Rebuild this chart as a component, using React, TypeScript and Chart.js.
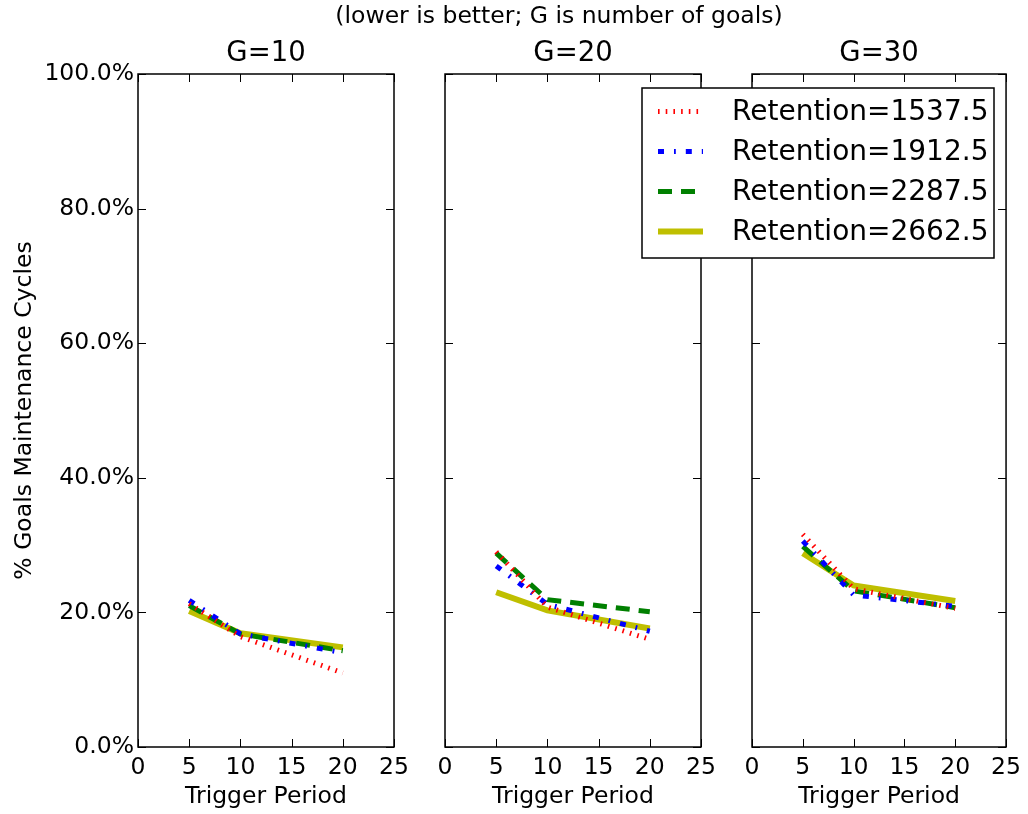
import React, { useEffect, useRef } from 'react';
import { Chart, registerables } from 'chart.js';

Chart.register(...registerables);

// ---------- data ----------
const triggerPeriods = [5, 10, 20];
const retentionLabels = ['Retention=1537.5', 'Retention=1912.5', 'Retention=2287.5', 'Retention=2662.5'];
const panelTitles = ['G=10', 'G=20', 'G=30'];
const suptitle = '(lower is better; G is number of goals)';
const xTickValues = [0, 5, 10, 15, 20, 25];
const yTickValues = [0, 20, 40, 60, 80, 100];
const xAxisTitle = 'Trigger Period';
const yAxisTitle = '% Goals Maintenance Cycles';

// G=10
const g10Ret1537 = [21.3, 16.4, 11.0];
const g10Ret1912 = [21.8, 16.8, 14.0];
const g10Ret2287 = [21.0, 16.8, 14.3];
const g10Ret2662 = [20.2, 16.9, 14.8];
// G=20
const g20Ret1537 = [29.0, 20.8, 16.0];
const g20Ret1912 = [26.9, 21.2, 17.2];
const g20Ret2287 = [28.8, 21.9, 20.1];
const g20Ret2662 = [23.0, 20.3, 17.6];
// G=30
const g30Ret1537 = [31.6, 23.5, 20.6];
const g30Ret1912 = [30.6, 22.6, 20.9];
const g30Ret2287 = [29.8, 23.2, 20.7];
const g30Ret2662 = [28.8, 24.0, 21.7];

const panelSeries = [
  [g10Ret1537, g10Ret1912, g10Ret2287, g10Ret2662],
  [g20Ret1537, g20Ret1912, g20Ret2287, g20Ret2662],
  [g30Ret1537, g30Ret1912, g30Ret2287, g30Ret2662],
];

// ---------- styles ----------
const FONT = '"DejaVu Sans", sans-serif';
const LABEL_SIZE = 23.5;
const TITLE_SIZE = 27.5;
const LEGEND_SIZE = 28;
const seriesStyles = [
  { color: '#ff0000', width: 5, dash: [1.6, 6.1] },
  { color: '#0000ff', width: 5, dash: [6, 10, 1.8, 10] },
  { color: '#008000', width: 5, dash: [14, 9] },
  { color: '#bfbf00', width: 6, dash: [] as number[] },
];
const W = 1028;
const H = 814;
const panelLefts = [138, 445, 752];
const panelWidth = 256;
const plotTop = 74;
const plotBottom = 747;

const framePlugin = {
  id: 'mplFrame',
  afterDraw(chart: any, _args: any, opts: any) {
    const { ctx, chartArea: a, scales } = chart;
    ctx.save();
    ctx.strokeStyle = '#000';
    ctx.setLineDash([]);
    ctx.lineWidth = 1;
    const tl = 8;
    for (const v of xTickValues) {
      const px = Math.round(scales.x.getPixelForValue(v)) + 0.5;
      ctx.beginPath();
      ctx.moveTo(px, a.bottom);
      ctx.lineTo(px, a.bottom - tl);
      ctx.moveTo(px, a.top);
      ctx.lineTo(px, a.top + tl);
      ctx.stroke();
    }
    for (const v of yTickValues) {
      const py = Math.round(scales.y.getPixelForValue(v)) + 0.5;
      ctx.beginPath();
      ctx.moveTo(a.left, py);
      ctx.lineTo(a.left + tl, py);
      ctx.moveTo(a.right, py);
      ctx.lineTo(a.right - tl, py);
      ctx.stroke();
    }
    ctx.lineWidth = 1.5;
    ctx.strokeRect(a.left, a.top, a.right - a.left, a.bottom - a.top);

    ctx.fillStyle = '#000';
    ctx.textAlign = 'center';
    ctx.textBaseline = 'middle';
    ctx.font = `${TITLE_SIZE}px ${FONT}`;
    ctx.fillText(opts.title, (a.left + a.right) / 2, 54);
    if (opts.suptitle) {
      ctx.font = `${LABEL_SIZE}px ${FONT}`;
      ctx.fillText(opts.suptitle, 559, 17);
    }
    if (opts.legend) {
      const bx = 642, by = 88, bw = 352, bh = 170;
      ctx.fillStyle = '#fff';
      ctx.fillRect(bx, by, bw, bh);
      ctx.lineWidth = 1.5;
      ctx.strokeStyle = '#000';
      ctx.strokeRect(bx, by, bw, bh);
      chart.data.datasets.forEach((ds: any, i: number) => {
        const y = 111.5 + 40 * i;
        ctx.save();
        ctx.strokeStyle = ds.borderColor;
        ctx.lineWidth = ds.borderWidth;
        ctx.setLineDash(ds.borderDash || []);
        ctx.lineCap = 'butt';
        ctx.beginPath();
        ctx.moveTo(658, y);
        ctx.lineTo(703, y);
        ctx.stroke();
        ctx.restore();
        ctx.fillStyle = '#000';
        ctx.textAlign = 'left';
        ctx.textBaseline = 'middle';
        ctx.font = `${LEGEND_SIZE}px ${FONT}`;
        ctx.fillText(ds.label, 732, y + 1);
      });
    }
    ctx.restore();
  },
};

function makeConfig(p: number): any {
  const left = panelLefts[p];
  const right = left + panelWidth;
  const datasets = panelSeries[p].map((vals, i) => ({
    label: retentionLabels[i],
    data: triggerPeriods.map((x, j) => ({ x, y: vals[j] })),
    borderColor: seriesStyles[i].color,
    borderWidth: seriesStyles[i].width,
    borderDash: seriesStyles[i].dash,
    borderCapStyle: 'butt',
    borderJoinStyle: 'miter',
    pointRadius: 0,
    fill: false,
    tension: 0,
  }));
  return {
    type: 'line',
    data: { datasets },
    plugins: [framePlugin],
    options: {
      animation: false,
      responsive: false,
      devicePixelRatio: 1,
      layout: { padding: { left: 0, right: W - right, top: plotTop, bottom: 0 } },
      plugins: {
        legend: { display: false },
        tooltip: { enabled: false },
        title: { display: false },
        mplFrame: {
          title: panelTitles[p],
          suptitle: p === 0 ? suptitle : null,
          legend: p === 2,
        },
      },
      scales: {
        x: {
          type: 'linear',
          min: 0,
          max: 25,
          afterBuildTicks: (s: any) => {
            s.ticks = xTickValues.map((v) => ({ value: v }));
          },
          ticks: {
            color: '#000',
            font: { family: FONT, size: LABEL_SIZE },
            padding: 7,
            maxRotation: 0,
            autoSkip: false,
          },
          grid: { display: false, drawTicks: false },
          border: { display: false },
          title: {
            display: true,
            text: xAxisTitle,
            color: '#000',
            font: { family: FONT, size: LABEL_SIZE },
            padding: { top: 0, bottom: 3 },
          },
          afterFit: (s: any) => {
            s.height = H - plotBottom;
          },
        },
        y: {
          type: 'linear',
          min: 0,
          max: 100,
          afterBuildTicks: (s: any) => {
            s.ticks = yTickValues.map((v) => ({ value: v }));
          },
          ticks: {
            display: p === 0,
            color: '#000',
            font: { family: FONT, size: LABEL_SIZE },
            padding: 4,
            callback: (v: any) => Number(v).toFixed(1) + '%',
          },
          grid: { display: false, drawTicks: false },
          border: { display: false },
          title: {
            display: p === 0,
            text: yAxisTitle,
            color: '#000',
            font: { family: FONT, size: LABEL_SIZE },
            padding: { top: 11, bottom: 0 },
          },
          afterFit: (s: any) => {
            s.width = left;
          },
        },
      },
    },
  };
}

function Panel({ index }: { index: number }) {
  const ref = useRef<HTMLCanvasElement | null>(null);
  useEffect(() => {
    if (!ref.current) return;
    const chart = new Chart(ref.current, makeConfig(index));
    return () => chart.destroy();
  }, [index]);
  return (
    <canvas
      ref={ref}
      width={W}
      height={H}
      style={{ position: 'absolute', left: 0, top: 0, width: W, height: H }}
    />
  );
}

export default function App() {
  return (
    <div style={{ position: 'absolute', left: 0, top: 0, width: W, height: H, background: '#fff' }}>
      <Panel index={0} />
      <Panel index={1} />
      <Panel index={2} />
    </div>
  );
}
